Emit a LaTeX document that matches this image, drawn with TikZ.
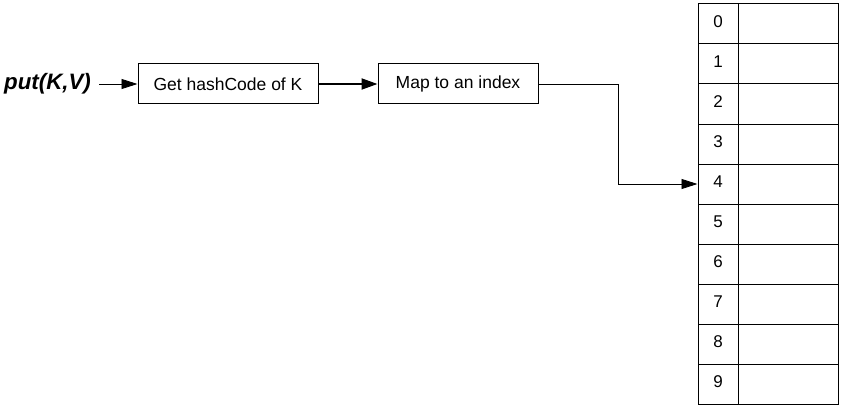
\documentclass[tikz,border=0pt]{standalone}
\usepackage{fontspec}
\setmainfont{Liberation Sans}
\usetikzlibrary{arrows.meta}
\begin{document}
\begin{tikzpicture}[x=1pt,y=-1pt,
  procbox/.style={draw, line width=1pt, minimum width=180pt, minimum height=40pt, inner sep=0pt, font=\fontsize{17.5}{20}\selectfont},
  idxcell/.style={draw, line width=1pt, minimum width=40pt, minimum height=40pt, inner sep=0pt},
  valcell/.style={draw, line width=1pt, minimum width=100pt, minimum height=40pt, inner sep=0pt},
  numtext/.style={font=\fontsize{17}{20}\selectfont, inner sep=0pt},
  thinarrow/.style={line width=0.9pt, -{Triangle[length=16pt,width=10pt]}},
  thickarrow/.style={line width=2pt, -{Triangle[length=16pt,width=11pt]}}
]
\useasboundingbox (0,0) rectangle (842,409);
\node[font=\fontsize{22.3}{26}\bfseries\itshape\selectfont, inner xsep=8pt, inner ysep=2pt] (put) at (47.5,84) {put(K,V)};
\node[procbox] (hash) at (228,84) {Get hashCode of K};
\node[procbox, minimum width=160pt] (map) at (458,84) {Map to an index};
\foreach \i in {0,...,9} {
  \node[valcell] (val\i) at (788,24+40*\i) {};
  \node[idxcell] (idx\i) at (718,24+40*\i) {};
  \node[numtext] (num\i) at (718,22+40*\i) {\i};
}
\coordinate (bend) at (618,84);
\draw[thinarrow] (put.east) -- (hash.west);
\draw[thickarrow] (hash.east) -- (map.west);
\draw[thinarrow] (map.east) -- (bend) |- (idx4.west);
\end{tikzpicture}
\end{document}
